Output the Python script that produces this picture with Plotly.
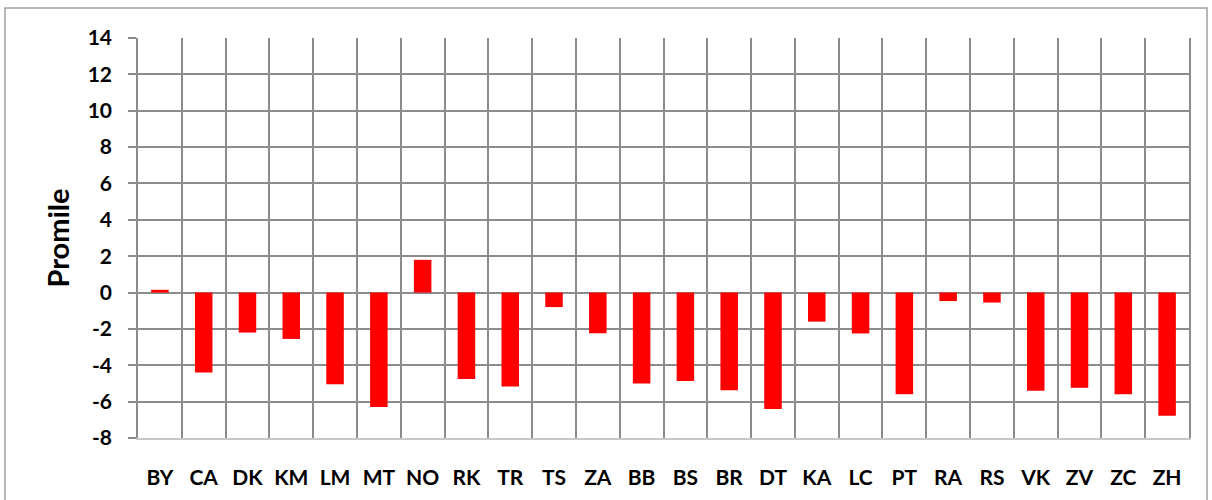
import plotly.graph_objects as go

categories = ["BY", "CA", "DK", "KM", "LM", "MT", "NO", "RK", "TR", "TS", "ZA", "BB",
              "BS", "BR", "DT", "KA", "LC", "PT", "RA", "RS", "VK", "ZV", "ZC", "ZH"]
values = [0.15, -4.4, -2.2, -2.55, -5.05, -6.3, 1.8, -4.75, -5.17, -0.8, -2.24, -5.0,
          -4.87, -5.37, -6.4, -1.6, -2.25, -5.6, -0.47, -0.55, -5.4, -5.23, -5.6, -6.78]
y_ticks = [-8, -6, -4, -2, 0, 2, 4, 6, 8, 10, 12, 14]
y_tick_labels = ["-8", "-6", "-4", "-2", "0", "2", "4", "6", "8", "10", "12", "14"]

FONT = "Lato"
GRID = "#8c8c8c"

fig = go.Figure()
fig.add_trace(go.Bar(x=categories, y=values, marker=dict(color="#ff0000", line=dict(width=0)),
                     width=0.4, hoverinfo="x+y"))

L, R, T, B = 138, 23, 38, 62
W, H = 1212, 500
pw, ph = W - L - R, H - T - B

fig.update_layout(
    width=W, height=H,
    margin=dict(l=L, r=R, t=T, b=B),
    paper_bgcolor="white", plot_bgcolor="white",
    showlegend=False,
    font=dict(family=FONT, color="black"),
    xaxis=dict(
        type="category", tickson="boundaries", showgrid=True, gridcolor=GRID, gridwidth=1.5,
        ticks="", tickfont=dict(family=FONT, size=21, color="black", weight="bold"),
        ticklabelstandoff=20, showline=True, linecolor="#c8c8c8", linewidth=1.5,
        range=[-0.5, 23.5],
    ),
    yaxis=dict(
        range=[-8, 14], tickvals=y_ticks, ticktext=y_tick_labels,
        showgrid=True, gridcolor=GRID, gridwidth=1.5,
        zeroline=False, ticks="outside", ticklen=8, tickcolor=GRID, tickwidth=1.5,
        tickfont=dict(family=FONT, size=21, color="black", weight="bold"),
        ticklabelstandoff=12,
        title=dict(text="Promile", font=dict(family=FONT, size=29, color="black", weight="bold"),
                   standoff=10),
        showline=True, linecolor=GRID, linewidth=1.5, mirror=True,
    ),
    shapes=[dict(type="rect", xref="paper", yref="paper",
                 x0=(5 - L) / pw, x1=(1207 - L) / pw,
                 y0=(H - B - 503) / ph, y1=(H - B - 8) / ph,
                 line=dict(color="#a0a0a0", width=1.5), fillcolor="rgba(0,0,0,0)", layer="below")],
)

fig.write_html("out.html", config={"displayModeBar": False},
               post_script="document.body.style.margin='0';")
